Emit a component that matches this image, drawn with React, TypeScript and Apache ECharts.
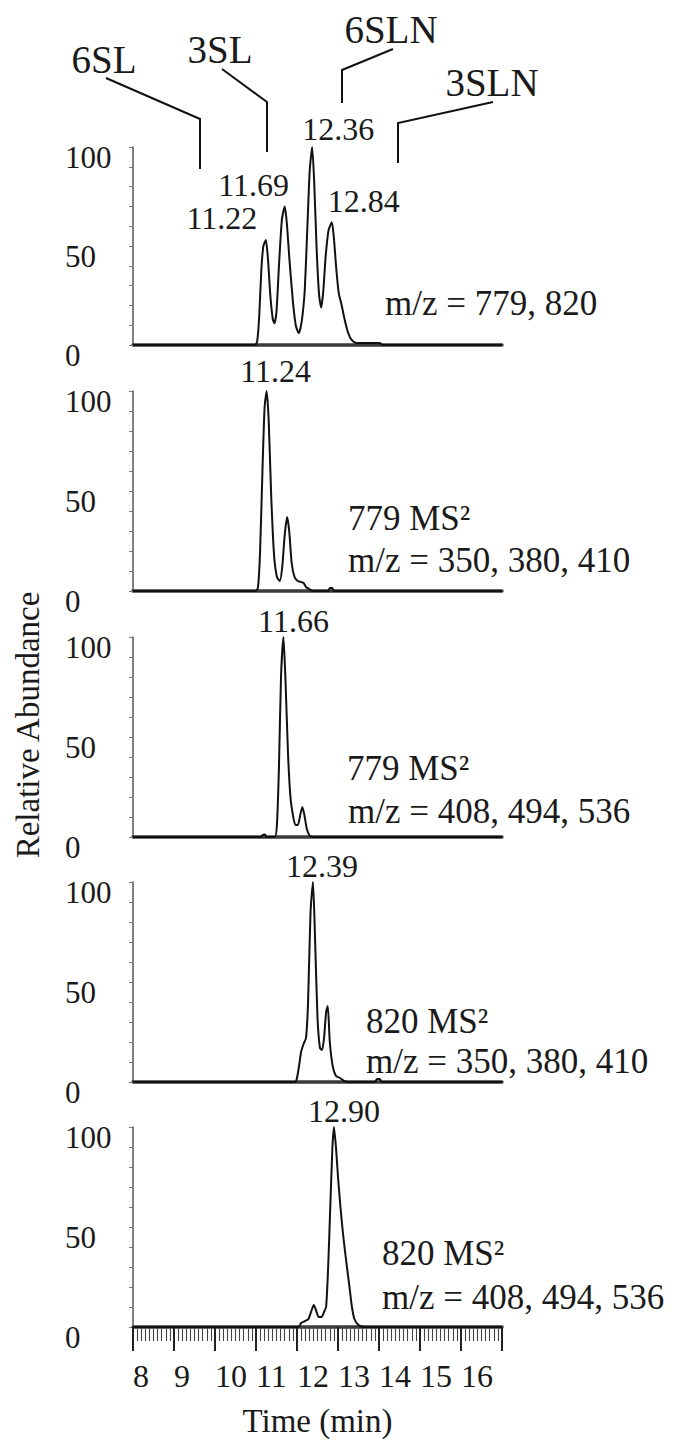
import React, { useEffect, useRef } from "react";
import * as echarts from "echarts";

const FONT = "Liberation Serif, Times New Roman, Times, serif";

// ---------- data ----------
const xTickLabels = ["8", "9", "10", "11", "12", "13", "14", "15", "16"];
const yTickLabels = ["0", "50", "100"];

// m/z = 779, 820 (extracted ion chromatogram)
const traceEic: number[][] = [
  [8, 0], [10.98, 0], [11.03, 2], [11.08, 15], [11.13, 38], [11.18, 50], [11.24, 53], [11.29, 44],
  [11.35, 25], [11.41, 13], [11.45, 11], [11.5, 17], [11.56, 40], [11.63, 63], [11.7, 70], [11.75, 62],
  [11.82, 42], [11.9, 22], [11.97, 10], [12.04, 6], [12.09, 9], [12.14, 16], [12.19, 28], [12.25, 58],
  [12.31, 88], [12.37, 100], [12.42, 82], [12.48, 48], [12.54, 25], [12.59, 19], [12.64, 27], [12.7, 45],
  [12.77, 58], [12.85, 62], [12.9, 54], [12.96, 38], [13.02, 26], [13.08, 21], [13.15, 14], [13.22, 8],
  [13.29, 4], [13.36, 2], [13.45, 1], [14.02, 1], [14.08, 0], [17, 0],
];
// 779 MS2, m/z = 350, 380, 410
const trace779a: number[][] = [
  [8, 0], [11.0, 0], [11.05, 2], [11.1, 20], [11.16, 62], [11.21, 92], [11.26, 100], [11.31, 85],
  [11.37, 48], [11.44, 18], [11.51, 7], [11.58, 5], [11.64, 12], [11.7, 28], [11.76, 37], [11.81, 30],
  [11.87, 14], [11.94, 7], [12.02, 5], [12.1, 4.5], [12.16, 4], [12.22, 2], [12.3, 1], [12.38, 0],
  [12.76, 0], [12.8, 1.5], [12.86, 1.5], [12.9, 0], [17, 0],
];
// 779 MS2, m/z = 408, 494, 536
const trace779b: number[][] = [
  [8, 0], [11.12, 0], [11.16, 1], [11.22, 1.2], [11.26, 0], [11.46, 0], [11.51, 6], [11.56, 35],
  [11.61, 80], [11.67, 100], [11.72, 78], [11.78, 42], [11.84, 20], [11.9, 11], [11.96, 6], [12.02, 6],
  [12.08, 11], [12.13, 15], [12.18, 11], [12.24, 4], [12.3, 1], [12.38, 0], [17, 0],
];
// 820 MS2, m/z = 350, 380, 410
const trace820a: number[][] = [
  [8, 0], [11.96, 0], [12.0, 2], [12.05, 8], [12.1, 15], [12.16, 19], [12.22, 22], [12.27, 40],
  [12.33, 85], [12.39, 100], [12.44, 72], [12.5, 32], [12.56, 17], [12.61, 16], [12.66, 22], [12.71, 35],
  [12.75, 38], [12.8, 20], [12.87, 8], [12.95, 3], [13.05, 2], [13.15, 0.5], [13.25, 0], [13.9, 0],
  [13.95, 1.5], [14.02, 1.5], [14.07, 0], [17, 0],
];
// 820 MS2, m/z = 408, 494, 536
const trace820b: number[][] = [
  [8, 0], [12.04, 0], [12.1, 2], [12.2, 3], [12.28, 4], [12.35, 8], [12.41, 11], [12.47, 8],
  [12.53, 5], [12.6, 5], [12.67, 8], [12.71, 10], [12.75, 25], [12.79, 47], [12.86, 88], [12.9, 100],
  [12.95, 90], [13.0, 75], [13.06, 60], [13.12, 47], [13.2, 33], [13.28, 20], [13.34, 10], [13.4, 4],
  [13.5, 1], [13.64, 0], [17, 0],
];

const traces = [traceEic, trace779a, trace779b, trace820a, trace820b];

const peakTimes = [[11.24, 11.7, 12.37, 12.85], [11.26], [11.67], [12.39], [12.9]];
const peakHeights = [[53, 70, 100, 62], [100], [100], [100], [100]];
const peakTexts = [["11.22", "11.69", "12.36", "12.84"], ["11.24"], ["11.66"], ["12.39"], ["12.90"]];

const panelNotes = [
  ["m/z = 779, 820"],
  ["779 MS²", "m/z = 350, 380, 410"],
  ["779 MS²", "m/z = 408, 494, 536"],
  ["820 MS²", "m/z = 350, 380, 410"],
  ["820 MS²", "m/z = 408, 494, 536"],
];

const compoundNames = ["6SL", "3SL", "6SLN", "3SLN"];

// ---------- layout (positions & styles) ----------
const gridTops = [147, 391, 637, 882, 1127];
const gridHeights = [198, 200, 200, 200, 200];
const peakLabelOffsets = [
  [[-44, -22], [-31, -21], [26, -18], [32, -21]],
  [[9, -20]],
  [[10, -16]],
  [[9, -16]],
  [[10, -16]],
];
const notePositions = [
  [[385, 303]],
  [[348, 518], [348, 560]],
  [[347, 768], [348, 811]],
  [[366, 1021], [366, 1061]],
  [[382, 1253], [382, 1297]],
];
const compoundLabelPos = [[104, 59], [220, 49], [391, 29], [492, 82]];
const compoundLeaders = [
  [[106, 78], [200, 119], [200, 169]],
  [[222, 69], [267, 102], [267, 152]],
  [[393, 49], [342, 70], [342, 103]],
  [[493, 102], [398, 123], [398, 163]],
];

const TEXT = "#1a1a1a";

export default function App() {
  const ref = useRef<HTMLDivElement>(null);

  useEffect(() => {
    if (!ref.current) return;
    const chart = echarts.init(ref.current, undefined, { renderer: "svg" });

    const grid = gridTops.map((top, i) => ({ left: 133, width: 369, top, height: gridHeights[i] }));

    const xAxis = gridTops.map((_, i) => {
      const last = i === gridTops.length - 1;
      return {
        type: "value",
        gridIndex: i,
        min: 8,
        max: 17,
        interval: 1,
        axisLine: { show: true, onZero: false, lineStyle: { color: "#3a3a3a", width: 3.5 } },
        axisTick: { show: last, length: 24, lineStyle: { color: "#222", width: 2 } },
        minorTick: { show: last, splitNumber: 10, length: 14, lineStyle: { color: "#444", width: 1.1 } },
        axisLabel: {
          show: last,
          fontFamily: FONT,
          fontSize: 32,
          color: TEXT,
          margin: 33,
          align: "left",
          showMaxLabel: false,
          formatter: (v: number) => (xTickLabels.indexOf(String(v)) >= 0 ? String(v) : ""),
        },
        splitLine: { show: false },
        name: last ? "Time (min)" : "",
        nameLocation: "middle",
        nameGap: 77,
        nameTextStyle: { fontFamily: FONT, fontSize: 33, color: TEXT },
      };
    });

    const yAxis = gridTops.map((_, i) => ({
      type: "value",
      gridIndex: i,
      min: 0,
      max: 100,
      interval: 10,
      axisLine: { show: true, lineStyle: { color: "#555", width: 1.5 } },
      axisTick: { show: true, length: 4, lineStyle: { color: "#777", width: 1 } },
      axisLabel: {
        fontFamily: FONT,
        fontSize: 31,
        color: TEXT,
        margin: 68,
        align: "left",
        verticalAlign: "top",
        lineHeight: 20,
        formatter: (v: number) => (yTickLabels.indexOf(String(v)) >= 0 ? String(v) : ""),
      },
      splitLine: { show: false },
    }));

    const series = traces.map((data, i) => ({
      type: "line",
      xAxisIndex: i,
      yAxisIndex: i,
      data,
      showSymbol: false,
      smooth: 0.2,
      lineStyle: { color: "#111", width: 2 },
      silent: true,
      z: 3,
      markPoint: {
        silent: true,
        symbol: "circle",
        symbolSize: 1,
        itemStyle: { color: "rgba(0,0,0,0)" },
        label: {
          show: true,
          position: "inside",
          fontFamily: FONT,
          fontSize: 32,
          color: TEXT,
          formatter: (p: any) => p.name,
        },
        data: peakTimes[i].map((t, k) => ({
          name: peakTexts[i][k],
          coord: [t, peakHeights[i][k]],
          label: { offset: peakLabelOffsets[i][k] },
        })),
      },
    }));

    const graphic: any[] = [];
    compoundLeaders.forEach((pts) => {
      graphic.push({
        type: "polyline",
        shape: { points: pts },
        style: { stroke: "#111", lineWidth: 2, fill: null },
        silent: true,
      });
    });
    compoundNames.forEach((name, k) => {
      graphic.push({
        type: "text",
        x: compoundLabelPos[k][0],
        y: compoundLabelPos[k][1],
        style: { text: name, fontFamily: FONT, fontSize: 39, fill: TEXT, align: "center", verticalAlign: "middle" },
        silent: true,
      });
    });
    panelNotes.forEach((lines, i) => {
      lines.forEach((txt, k) => {
        graphic.push({
          type: "text",
          x: notePositions[i][k][0],
          y: notePositions[i][k][1],
          style: { text: txt, fontFamily: FONT, fontSize: 35, fill: TEXT, align: "left", verticalAlign: "middle" },
          silent: true,
        });
      });
    });
    graphic.push({
      type: "text",
      x: 28,
      y: 725,
      rotation: Math.PI / 2,
      style: {
        text: "Relative Abundance",
        fontFamily: FONT,
        fontSize: 33,
        fill: TEXT,
        align: "center",
        verticalAlign: "middle",
      },
      silent: true,
    });

    chart.setOption({
      animation: false,
      backgroundColor: "#ffffff",
      grid,
      xAxis,
      yAxis,
      series,
      graphic,
    });

    return () => chart.dispose();
  }, []);

  return (
    <div
      ref={ref}
      style={{ position: "absolute", left: 0, top: 0, width: 677, height: 1452, background: "#fff" }}
    />
  );
}
